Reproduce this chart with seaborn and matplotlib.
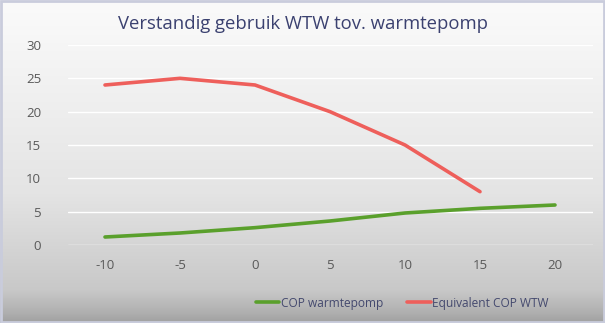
import numpy as np
import pandas as pd
import matplotlib
matplotlib.use("Agg")
import matplotlib.pyplot as plt
import seaborn as sns

# Outdoor temperature (°C) and the two COP series
temperatures = [-10, -5, 0, 5, 10, 15, 20]
cop_heat_pump = [1.2, 1.8, 2.6, 3.6, 4.8, 5.5, 6.0]
cop_wtw = [24, 25, 24, 20, 15, 8, None]
series_names = ["COP warmtepomp", "Equivalent COP WTW"]
y_ticks = [0, 5, 10, 15, 20, 25, 30]

df = pd.DataFrame({
    "temp": temperatures * 2,
    "cop": cop_heat_pump + cop_wtw,
    "series": [series_names[0]] * len(temperatures) + [series_names[1]] * len(temperatures),
}).dropna()

sns.set_theme(style="white")
plt.rcParams["font.family"] = ["Open Sans", "DejaVu Sans"]

W, H = 605, 323
fig = plt.figure(figsize=(W / 100, H / 100), dpi=100)

# Vertical gradient background over the whole figure
bg = fig.add_axes([0, 0, 1, 1], zorder=0)
stops_y = np.array([0.0, 0.08, 0.6, 0.9, 0.97, 1.0])
stops_c = np.array([250, 248, 228, 200, 175, 160]) / 255.0
ys = np.linspace(0, 1, 400)
vals = np.interp(ys, stops_y, stops_c)
grad = np.repeat(vals[:, None], 2, axis=1)
bg.imshow(np.dstack([grad, grad, grad]), aspect="auto", extent=[0, 1, 1, 0])
bg.set_xlim(0, 1)
bg.set_ylim(1, 0)
bg.axis("off")
# thin border
bg.add_patch(plt.Rectangle((0.002, 0.003), 0.996, 0.994, fill=False,
                           edgecolor="#c9ccdc", lw=2, transform=bg.transAxes))

ax = fig.add_axes([67.5 / W, (H - 245) / H, 525 / W, 200 / H], zorder=1)
ax.patch.set_alpha(0)

palette = {series_names[0]: "#5aa02c", series_names[1]: "#ee5f5b"}
sns.lineplot(data=df, x="temp", y="cop", hue="series", palette=palette,
             linewidth=2.6, ax=ax, legend=False, sort=False)

ax.set_xlim(-12.5, 22.5)
ax.set_ylim(0, 30)
ax.set_xticks(temperatures)
ax.set_xticklabels([str(t) for t in temperatures])
ax.set_yticks(y_ticks)
ax.set_yticklabels([str(t) for t in y_ticks])
ax.grid(axis="y", color="white", linewidth=1.0)
ax.set_axisbelow(True)
for s in ax.spines.values():
    s.set_visible(False)
ax.tick_params(axis="both", length=0, labelsize=9.5, labelcolor="#595959", pad=10)
ax.tick_params(axis="y", pad=19)
ax.set_xlabel("")
ax.set_ylabel("")

fig.text(0.5, 1 - 24 / H, "Verstandig gebruik WTW tov. warmtepomp",
         ha="center", va="center", fontsize=13.3, color="#3b4170")

# Legend along the bottom
handles = [plt.Line2D([], [], color=palette[n], lw=2.6) for n in series_names]
fig.legend(handles, series_names, loc="center", bbox_to_anchor=(402 / W, 1 - 303 / H),
           ncol=2, frameon=False, fontsize=8.6, labelcolor="#44496e",
           handlelength=2.0, handletextpad=0.1, columnspacing=2.0)

fig.savefig("out.png", dpi=100)
